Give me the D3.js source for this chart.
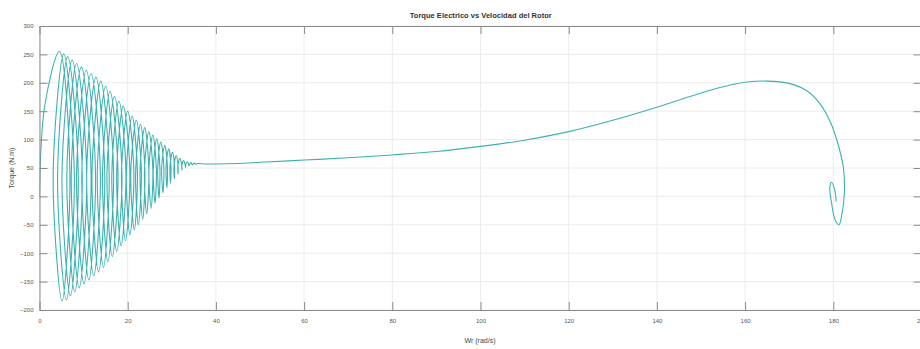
<!DOCTYPE html>
<html>
<head>
<meta charset="utf-8">
<script src="https://cdn.jsdelivr.net/npm/d3@7"></script>
<style>
  body { margin: 0; background: #fff; }
  svg { display: block; font-family: Arial, "Liberation Sans", sans-serif; }
</style>
</head>
<body>
<svg id="chart" width="920" height="349"></svg>
<script>
// Axis ticks
const speedTicks = [0, 20, 40, 60, 80, 100, 120, 140, 160, 180, 200];
const torqueTicks = [-200, -150, -100, -50, 0, 50, 100, 150, 200, 250, 300];

// Rotor speed (rad/s) along the start-up trajectory
const speed = [
  0, 1.2,
  4.5, 6.9, 5.1, 3.1,
  5.5, 7.9, 6.1, 4.1,
  6.4, 8.8, 7.0, 5.1,
  7.4, 9.7, 8.0, 6.2,
  8.4, 10.7, 9.0, 7.2,
  9.5, 11.7, 10.1, 8.4,
  10.6, 12.7, 11.2, 9.6,
  11.7, 13.8, 12.3, 10.7,
  12.8, 14.8, 13.4, 11.9,
  13.9, 15.8, 14.5, 13.1,
  15.0, 16.8, 15.5, 14.3,
  16.0, 17.8, 16.5, 15.3,
  17.0, 18.7, 17.5, 16.4,
  18.0, 19.6, 18.5, 17.5,
  19.0, 20.5, 19.5, 18.6,
  20.0, 21.4, 20.5, 19.7,
  21.0, 22.2, 21.5, 20.7,
  21.95, 23.1, 22.4, 21.8,
  22.9, 23.9, 23.4, 22.8,
  23.85, 24.8, 24.3, 23.8,
  24.8, 25.7, 25.3, 24.8,
  25.7, 26.5, 26.2, 25.8,
  26.6, 27.3, 27.1, 26.8,
  27.5, 28.2, 28.0, 27.7,
  28.4, 29.0, 28.9, 28.7,
  29.3, 29.8, 29.7, 29.6,
  30.15, 30.6, 30.6, 30.5,
  31.0, 31.4, 31.4, 31.4,
  31.85, 32.2, 32.3, 32.3,
  32.7, 33.0, 33.1, 33.2,
  33.5, 33.8, 33.9, 34.1,
  34.3, 34.5, 34.7, 34.9,
  35.1, 35.3, 35.5, 35.7,
  35.9, 36.6,
  38, 40, 45, 50, 60, 70, 80, 90, 100, 110, 120, 130, 140, 150, 155, 160,
  165, 170, 174, 177, 179.5, 181, 182.3, 182.5, 182, 181.3, 180.4, 179.6,
  179.2, 179.6, 180.2, 180.6, 180.6
];

// Electric torque (N.m) at each of those speeds
const torque = [
  0, 160,
  255, 35, -184, 35,
  251, 34.5, -182, 34.5,
  246, 35.5, -175, 35.5,
  240, 36, -168, 36,
  234, 36.5, -161, 36.5,
  228, 37, -154, 37,
  222, 37.5, -147, 37.5,
  216, 38, -140, 38,
  210, 38.5, -133, 38.5,
  203, 39, -125, 39,
  194, 39.5, -115, 39.5,
  185, 39.5, -106, 39.5,
  176, 39.5, -97, 39.5,
  168, 40.5, -87, 40.5,
  159, 40.5, -78, 40.5,
  150, 41, -68, 41,
  141, 41, -59, 41,
  134, 42, -50, 42,
  127, 43.5, -40, 43.5,
  121, 45, -31, 45,
  114, 46.5, -21, 46.5,
  108, 48, -12, 48,
  102, 49.5, -3, 49.5,
  96, 51, 6, 51,
  90, 52.5, 15, 52.5,
  84, 53.5, 23, 53.5,
  78, 54.5, 31, 54.5,
  72, 55.5, 39, 55.5,
  67, 56.5, 46, 56.5,
  63, 57, 51, 57,
  61, 57.5, 54, 57.5,
  59.5, 57.5, 55.5, 57.5,
  58.5, 57.5, 56.5, 57.5,
  58, 57.5,
  57, 57, 58, 60, 64, 68, 73, 79, 88, 99, 114, 134, 157, 182, 193, 201,
  203, 199, 186, 163, 128, 94, 50, 6, -29, -50, -41, -11,
  15, 25, 15, -3, -9
];

const svg = d3.select("#chart");
const x = d3.scaleLinear().domain([0, 200]).range([39.5, 921.5]);
const y = d3.scaleLinear().domain([-200, 300]).range([310, 26]);
const [x0, x1] = x.range();
const [y0, y1] = y.range();

// Grid
const grid = svg.append("g").attr("stroke", "#ececec").attr("stroke-width", 1);
grid.selectAll("line.v").data(speedTicks).join("line").attr("class", "v")
  .attr("x1", d => x(d)).attr("x2", d => x(d)).attr("y1", y1).attr("y2", y0);
grid.selectAll("line.h").data(torqueTicks).join("line").attr("class", "h")
  .attr("x1", x0).attr("x2", x1).attr("y1", d => y(d)).attr("y2", d => y(d));

// Curve
svg.append("defs").append("clipPath").attr("id", "plotArea")
  .append("rect").attr("x", x0).attr("y", y1).attr("width", x1 - x0).attr("height", y0 - y1);

const line = d3.line()
  .x((d, i) => x(speed[i]))
  .y((d, i) => y(torque[i]))
  .curve(d3.curveCatmullRom.alpha(0.5));

svg.append("path")
  .attr("clip-path", "url(#plotArea)")
  .attr("d", line(speed))
  .attr("fill", "none")
  .attr("stroke", "#3ab2b0")
  .attr("stroke-width", 1.1);

// Axes (box with inward ticks on all sides)
const axisColor = "#8a8a8a";
function styleAxis(g) {
  g.select(".domain").attr("stroke", axisColor);
  g.selectAll(".tick line").attr("stroke", axisColor);
  g.selectAll(".tick text").attr("fill", "#555").attr("font-size", 6);
}

svg.append("g").attr("transform", `translate(0,${y0})`)
  .call(d3.axisBottom(x).tickValues(speedTicks).tickSizeInner(-8).tickSizeOuter(0).tickPadding(9))
  .call(styleAxis);
svg.append("g").attr("transform", `translate(0,${y1})`)
  .call(d3.axisTop(x).tickValues(speedTicks).tickSizeInner(-8).tickSizeOuter(0).tickFormat(""))
  .call(styleAxis);
svg.append("g").attr("transform", `translate(${x0},0)`)
  .call(d3.axisLeft(y).tickValues(torqueTicks).tickSizeInner(-8).tickSizeOuter(0).tickPadding(6))
  .call(styleAxis);
svg.append("g").attr("transform", `translate(${x1},0)`)
  .call(d3.axisRight(y).tickValues(torqueTicks).tickSizeInner(-8).tickSizeOuter(0).tickFormat(""))
  .call(styleAxis);

// Labels
svg.append("text")
  .attr("x", (x0 + 920) / 2 + 1).attr("y", 18)
  .attr("text-anchor", "middle")
  .attr("font-size", 7.5).attr("font-weight", "bold").attr("fill", "#333")
  .attr("textLength", 142).attr("lengthAdjust", "spacingAndGlyphs")
  .text("Torque Electrico vs Velocidad del Rotor");

svg.append("text")
  .attr("x", 480).attr("y", 343)
  .attr("text-anchor", "middle")
  .attr("font-size", 7).attr("fill", "#444")
  .text("Wr (rad/s)");

svg.append("text")
  .attr("transform", `translate(14,${(y0 + y1) / 2}) rotate(-90)`)
  .attr("text-anchor", "middle")
  .attr("font-size", 7).attr("fill", "#444")
  .text("Torque (N.m)");
</script>
</body>
</html>
